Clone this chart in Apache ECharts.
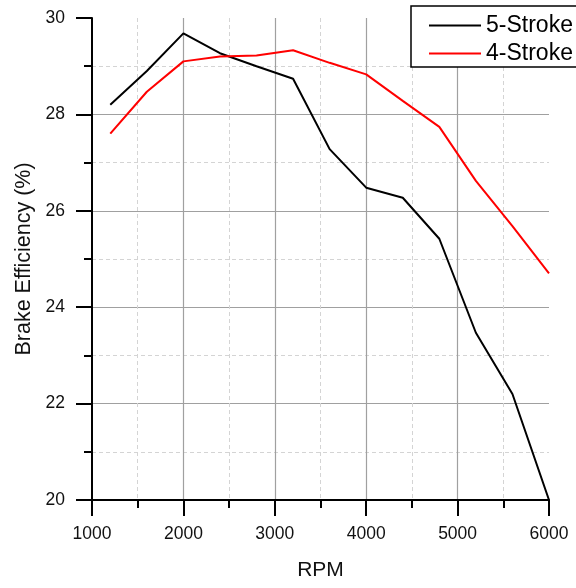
<!DOCTYPE html>
<html>
<head>
<meta charset="utf-8">
<script src="https://cdn.jsdelivr.net/npm/echarts@6/dist/echarts.min.js"></script>
<style>
html,body{margin:0;padding:0;background:#fff;}
#c{width:576px;height:588px;}
</style>
</head>
<body>
<div id="c"></div>
<script>
const rpm = [1200, 1600, 2000, 2400, 2800, 3200, 3600, 4000, 4400, 4800, 5200, 5600, 6000];
const fiveStroke = [28.2, 28.9, 29.68, 29.27, 29.0, 28.74, 27.28, 26.48, 26.27, 25.42, 23.47, 22.2, 20.0];
const fourStroke = [27.6, 28.47, 29.1, 29.2, 29.22, 29.33, 29.07, 28.83, 28.28, 27.74, 26.62, 25.68, 24.7];
const seriesNames = ['5-Stroke', '4-Stroke'];
const xName = 'RPM';
const yName = 'Brake Efficiency (%)';

const font = 'Liberation Sans, Arial, sans-serif';
const chart = echarts.init(document.getElementById('c'), null, {renderer: 'canvas'});

function axisCommon() {
  return {
    axisLine: {show: true, onZero: false, lineStyle: {color: '#000', width: 2}},
    axisTick: {show: true, inside: false, length: 16, lineStyle: {color: '#000', width: 2}},
    minorTick: {show: true, splitNumber: 2, length: 8, lineStyle: {color: '#000', width: 2}},
    splitLine: {show: true, showMinLine: false, showMaxLine: false, lineStyle: {color: '#a0a0a0', width: 1.2}},
    minorSplitLine: {show: true, lineStyle: {color: '#d4d4d4', width: 1, type: [4, 3]}},
    axisLabel: {color: '#111', fontSize: 17.5, fontFamily: font, formatter: v => String(v)},
    nameTextStyle: {color: '#111', fontSize: 21, fontFamily: font}
  };
}

const xAxis = Object.assign(axisCommon(), {
  type: 'value', min: 1000, max: 6000, interval: 1000,
  name: xName, nameLocation: 'middle', nameGap: 60
});
xAxis.axisLabel.margin = 25;

const yAxis = Object.assign(axisCommon(), {
  type: 'value', min: 20, max: 30, interval: 2,
  name: yName, nameLocation: 'middle', nameGap: 56, nameRotate: 90
});
yAxis.axisLabel.margin = 27;
yAxis.nameTextStyle.fontSize = 21.5;

chart.setOption({
  animation: false,
  backgroundColor: '#fff',
  grid: {left: 92, right: 27, top: 18, bottom: 88, containLabel: false},
  xAxis: xAxis,
  yAxis: yAxis,
  legend: {
    orient: 'vertical', left: 411, top: 6,
    padding: [8, 12, 2, 18],
    itemGap: 5, itemWidth: 52, itemHeight: 2,
    icon: 'rect',
    borderColor: '#000', borderWidth: 1.5, borderRadius: 0,
    backgroundColor: '#fff',
    textStyle: {color: '#000', fontSize: 23, fontFamily: font, lineHeight: 22, padding: [0, 0, 0, 0]},
    data: seriesNames
  },
  series: [
    {name: seriesNames[0], type: 'line', symbol: 'none', showSymbol: false,
     lineStyle: {color: '#000', width: 2}, itemStyle: {color: '#000'},
     data: rpm.map((x, i) => [x, fiveStroke[i]])},
    {name: seriesNames[1], type: 'line', symbol: 'none', showSymbol: false,
     lineStyle: {color: '#ff0000', width: 2}, itemStyle: {color: '#ff0000'},
     data: rpm.map((x, i) => [x, fourStroke[i]])}
  ]
});
</script>
</body>
</html>
